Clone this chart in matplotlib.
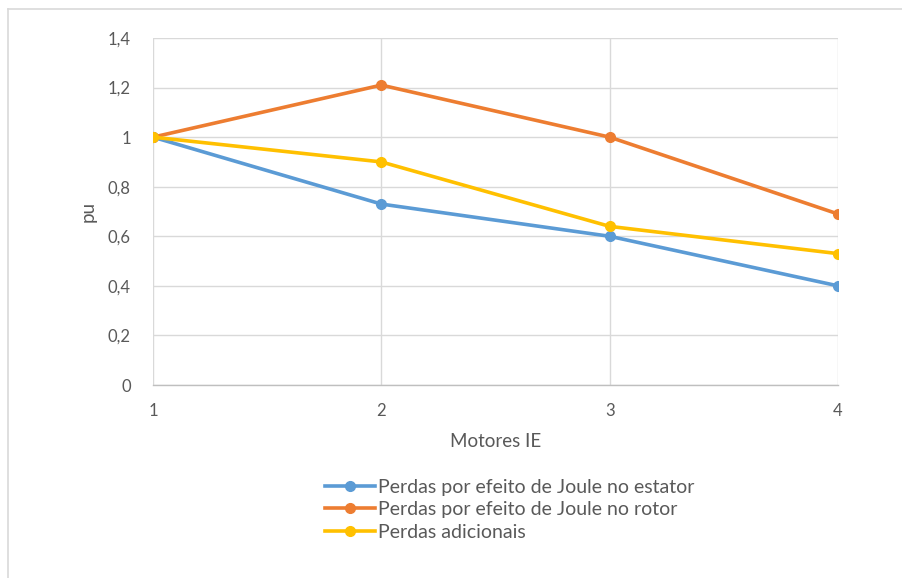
import matplotlib
matplotlib.use("Agg")
import matplotlib.pyplot as plt
from matplotlib.lines import Line2D

plt.rcParams['font.family'] = ['Lato', 'DejaVu Sans']

motores = [1, 2, 3, 4]
estator = [1.00, 0.73, 0.60, 0.40]
rotor = [1.00, 1.21, 1.00, 0.69]
adicionais = [1.00, 0.90, 0.64, 0.53]

labels = ["Perdas por efeito de Joule no estator",
          "Perdas por efeito de Joule no rotor",
          "Perdas adicionais"]
colors = ["#5B9BD5", "#ED7D31", "#FFC000"]
y_ticks = [0, 0.2, 0.4, 0.6, 0.8, 1.0, 1.2, 1.4]
y_tick_labels = ["0", "0,2", "0,4", "0,6", "0,8", "1", "1,2", "1,4"]

text_color = "#595959"
grid_color = "#D9D9D9"

fig = plt.figure(figsize=(9.02, 5.78), dpi=100)
W, H = 902, 578
ax = fig.add_axes([153 / W, 1 - 385 / H, (838 - 153) / W, (385 - 38) / H])

series = [estator, rotor, adicionais]
for vals, lab, c in zip(series, labels, colors):
    ax.plot(motores, vals, color=c, lw=2.6, marker="o", markersize=7,
            label=lab, solid_capstyle="round", zorder=3)

ax.set_xlim(1, 4)
ax.set_ylim(0, 1.4)
ax.set_xticks(motores)
ax.set_xticklabels([str(m) for m in motores])
ax.set_yticks(y_ticks)
ax.set_yticklabels(y_tick_labels)
ax.grid(True, color=grid_color, lw=1)
ax.set_axisbelow(True)
for s in ["top", "right", "left"]:
    ax.spines[s].set_visible(False)
ax.spines["bottom"].set_color("#BFBFBF")
ax.spines["bottom"].set_linewidth(1)
ax.tick_params(axis="both", length=0, labelsize=12, labelcolor=text_color)
ax.tick_params(axis="y", pad=16)
ax.tick_params(axis="x", pad=13)
ax.set_xlabel("Motores IE", fontsize=13.5, color=text_color, labelpad=10)
ax.set_ylabel("pu", fontsize=13.5, color=text_color, labelpad=8)

handles = [Line2D([0], [0], color=c, lw=2.6, marker="o", markersize=7)
           for c in colors]
fig.legend(handles, labels, loc="upper left",
           bbox_to_anchor=(325 / W, 1 - 479 / H), frameon=False,
           fontsize=14, labelcolor=text_color, handlelength=2.55,
           handletextpad=0.15, labelspacing=0.27, borderpad=0,
           borderaxespad=0)

# outer frame of the chart area
fig.add_artist(Line2D([8 / W, 8 / W], [0, 1 - 9 / H], transform=fig.transFigure,
                      color="#D9D9D9", lw=1.2))
fig.add_artist(Line2D([8 / W, 1], [1 - 9 / H, 1 - 9 / H], transform=fig.transFigure,
                      color="#D9D9D9", lw=1.2))

fig.savefig("out.png", dpi=100)
